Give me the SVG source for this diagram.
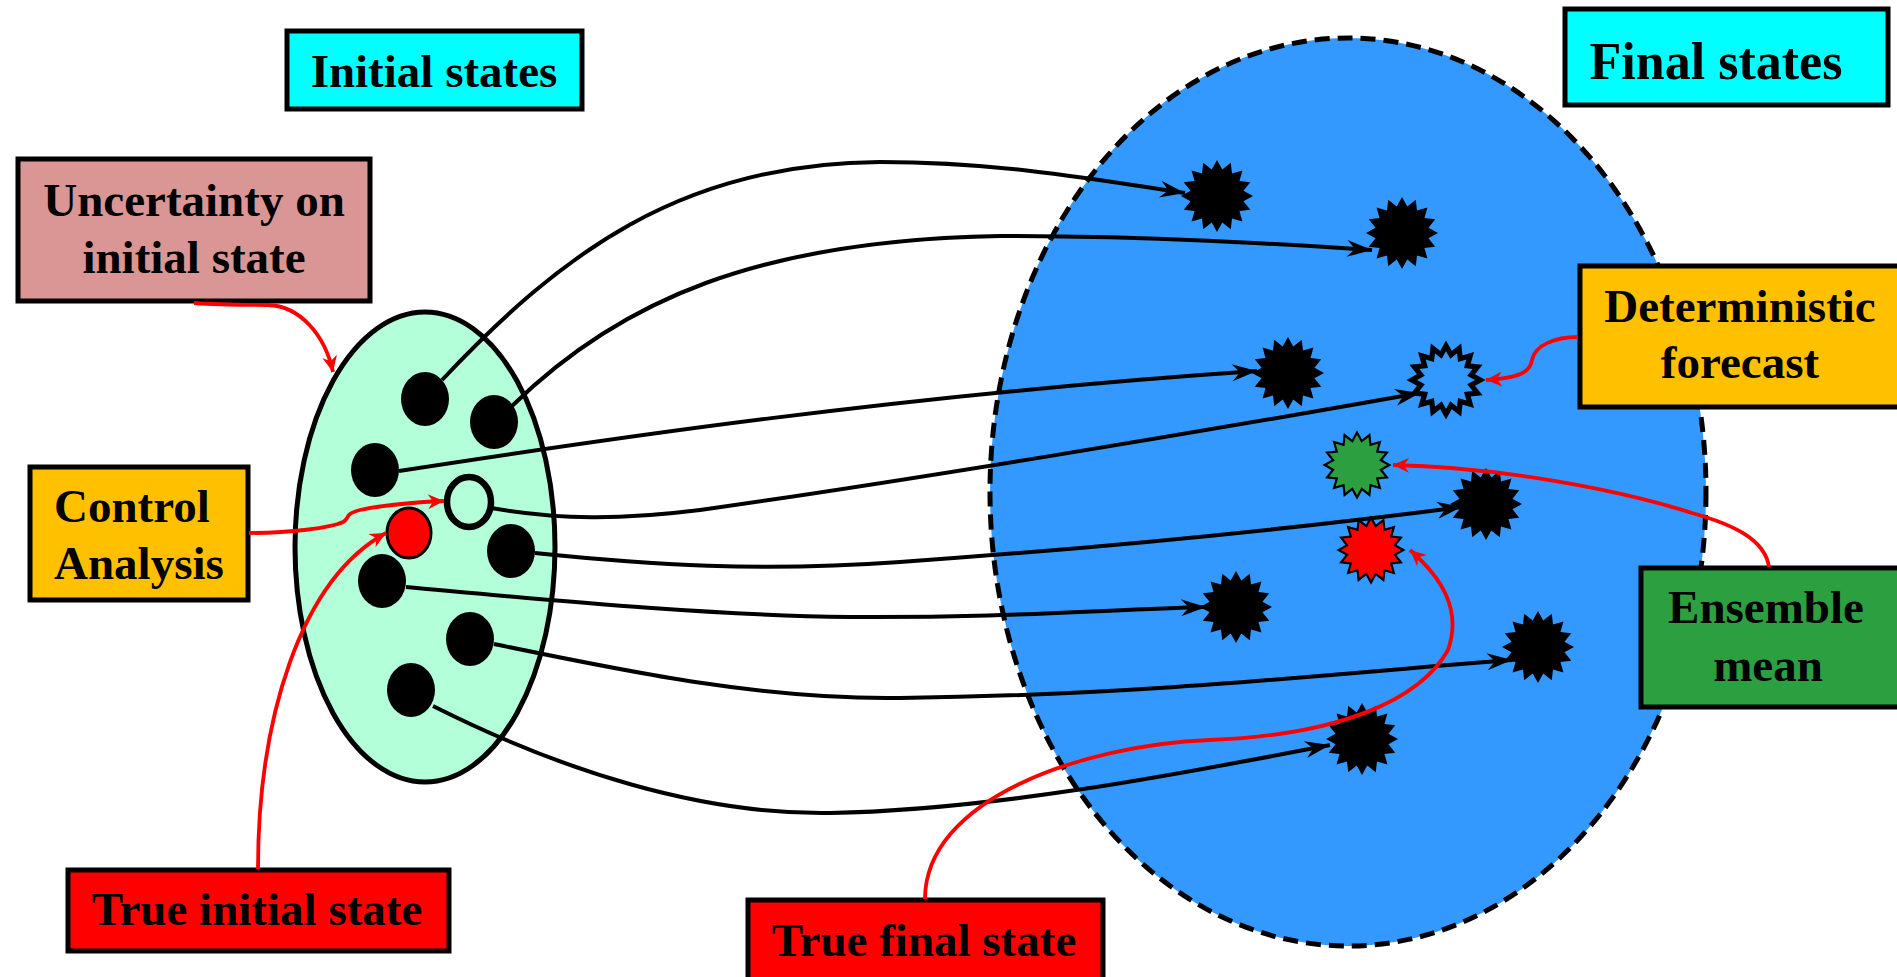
<svg xmlns="http://www.w3.org/2000/svg" xmlns:xlink="http://www.w3.org/1999/xlink" width="1897" height="977" viewBox="0 0 1897 977">
  <style>
    .box { stroke: #000; stroke-width: 5; }
    .lbl { font-family: "Liberation Serif", "Times New Roman", serif; font-weight: bold; font-size: 47px; fill: #000; }
    .mid { text-anchor: middle; }
    .dot { fill: #000; }
    .flow { fill: none; stroke: #000; stroke-width: 4; marker-end: url(#arrowBlack); }
    .link { fill: none; stroke: #FF0000; stroke-width: 3.8; marker-end: url(#arrowRed); }
  </style>
  <defs>
    <marker id="arrowBlack" viewBox="-27 -10 29 20" refX="0" refY="0" markerWidth="29" markerHeight="20" markerUnits="userSpaceOnUse" orient="auto">
      <path d="M0,0 L-25,-8.5 L-17,0 L-25,8.5 Z" fill="#000"/>
    </marker>
    <marker id="arrowRed" viewBox="-18 -9 20 18" refX="0" refY="0" markerWidth="20" markerHeight="18" markerUnits="userSpaceOnUse" orient="auto">
      <path d="M0,0 L-16,-7.5 L-11,0 L-16,7.5 Z" fill="#FF0000"/>
    </marker>
    <!-- 16-point burst used for every final state -->
    <path id="star" d="M0,-36 L5.27,-26.48 L13.78,-33.26 L15,-22.45 L25.46,-25.46 L22.45,-15 L33.26,-13.78 L26.48,-5.27 L36,0 L26.48,5.27 L33.26,13.78 L22.45,15 L25.46,25.46 L15,22.45 L13.78,33.26 L5.27,26.48 L0,36 L-5.27,26.48 L-13.78,33.26 L-15,22.45 L-25.46,25.46 L-22.45,15 L-33.26,13.78 L-26.48,5.27 L-36,0 L-26.48,-5.27 L-33.26,-13.78 L-22.45,-15 L-25.46,-25.46 L-15,-22.45 L-13.78,-33.26 L-5.27,-26.48 Z"/>
  </defs>

  <rect width="1897" height="977" fill="#FFFFFF"/>

  <!-- state regions -->
  <g id="final-region">
    <ellipse cx="1348" cy="492" rx="358" ry="454" fill="#3399FF" stroke="#000" stroke-width="5" stroke-dasharray="15 8"/>
  </g>
  <g id="initial-region">
    <ellipse cx="425" cy="547" rx="130" ry="235" fill="#B3FFDA" stroke="#000" stroke-width="5"/>
  </g>

  <!-- final ensemble members -->
  <g id="final-1"><use xlink:href="#star" x="1217" y="196" fill="#000"/></g>
  <g id="final-2"><use xlink:href="#star" x="1402" y="233" fill="#000"/></g>
  <g id="final-3"><use xlink:href="#star" x="1288" y="373" fill="#000"/></g>
  <g id="final-deterministic"><use xlink:href="#star" transform="translate(1446,380) scale(0.95)" fill="#3399FF" stroke="#000" stroke-width="5.5"/></g>
  <g id="final-mean"><use xlink:href="#star" transform="translate(1357,465) scale(0.9)" fill="#2CA040" stroke="#000" stroke-width="2.4"/></g>
  <g id="final-4"><use xlink:href="#star" x="1486" y="504" fill="#000"/></g>
  <g id="final-true"><use xlink:href="#star" transform="translate(1371,550) scale(0.9)" fill="#FF0000" stroke="#000" stroke-width="2.4"/></g>
  <g id="final-5"><use xlink:href="#star" x="1236" y="607" fill="#000"/></g>
  <g id="final-6"><use xlink:href="#star" x="1538" y="647" fill="#000"/></g>
  <g id="final-7"><use xlink:href="#star" x="1362" y="739" fill="#000"/></g>

  <!-- initial ensemble members -->
  <g id="init-1"><ellipse class="dot" cx="425" cy="399" rx="24" ry="27"/></g>
  <g id="init-2"><ellipse class="dot" cx="494" cy="422" rx="24" ry="27"/></g>
  <g id="init-3"><ellipse class="dot" cx="375" cy="470" rx="24" ry="27"/></g>
  <g id="init-control"><ellipse cx="469" cy="502" rx="22" ry="25" fill="#B3FFDA" stroke="#000" stroke-width="6.5"/></g>
  <g id="init-true"><ellipse cx="409" cy="533" rx="22" ry="25" fill="#FF0000" stroke="#000" stroke-width="3"/></g>
  <g id="init-4"><ellipse class="dot" cx="511" cy="551" rx="24" ry="27"/></g>
  <g id="init-5"><ellipse class="dot" cx="382" cy="581" rx="24" ry="27"/></g>
  <g id="init-6"><ellipse class="dot" cx="470" cy="639" rx="24" ry="27"/></g>
  <g id="init-7"><ellipse class="dot" cx="411" cy="690" rx="24" ry="27"/></g>

  <!-- labels -->
  <g id="label-initial-states">
    <rect class="box" x="287" y="31" width="295" height="78" fill="#00FFFF"/>
    <text class="lbl mid" x="434" y="87">Initial states</text>
  </g>
  <g id="label-final-states">
    <rect class="box" x="1565" y="9" width="323" height="96" fill="#00FFFF"/>
    <text class="lbl mid" x="1716" y="79" style="font-size:52px">Final states</text>
  </g>
  <g id="label-uncertainty">
    <rect class="box" x="18" y="159" width="352" height="142" fill="#D99694"/>
    <text class="lbl mid" x="194" y="216">Uncertainty on</text>
    <text class="lbl mid" x="194" y="273">initial state</text>
  </g>
  <g id="label-control">
    <rect class="box" x="30" y="467" width="218" height="133" fill="#FFC000"/>
    <text class="lbl" x="54" y="522">Control</text>
    <text class="lbl" x="54" y="579">Analysis</text>
  </g>
  <g id="label-true-initial">
    <rect class="box" x="68" y="870" width="381" height="81" fill="#FF0000"/>
    <text class="lbl mid" x="257" y="925">True initial state</text>
  </g>
  <g id="label-true-final">
    <rect class="box" x="748" y="900" width="355" height="90" fill="#FF0000"/>
    <text class="lbl mid" x="924" y="956">True final state</text>
  </g>
  <g id="label-deterministic">
    <rect class="box" x="1580" y="266" width="330" height="141" fill="#FFC000"/>
    <text class="lbl mid" x="1740" y="322">Deterministic</text>
    <text class="lbl mid" x="1740" y="378">forecast</text>
  </g>
  <g id="label-ensemble-mean">
    <rect class="box" x="1641" y="568" width="270" height="139" fill="#2CA040"/>
    <text class="lbl mid" x="1766" y="623">Ensemble</text>
    <text class="lbl mid" x="1768" y="681">mean</text>
  </g>

  <!-- connectors -->
  <g id="connectors">
    <path class="flow" d="M442,380 C560,255 680,163 880,162 C1000,162 1100,180 1185,193"/>
    <path class="flow" d="M512,406 C620,300 760,240 1000,236 C1150,236 1280,244 1372,250"/>
    <path class="flow" d="M399,471 C600,440 900,395 1257,371"/>
    <path class="flow" d="M491,508 C560,520 620,520 700,510 C900,482 1200,432 1420,393"/>
    <path class="flow" d="M535,553 C650,565 760,572 900,562 C1100,548 1300,528 1462,507"/>
    <path class="flow" d="M406,587 C550,600 700,615 850,617 C1000,618 1100,610 1206,607"/>
    <path class="flow" d="M494,644 C620,670 760,700 900,698 C1150,695 1350,672 1512,660"/>
    <path class="flow" d="M433,706 C560,770 700,815 830,813 C1000,810 1200,770 1330,745"/>

    <path class="link" d="M194,303 C220,305 245,305 268,305 C300,306 325,335 333,372"/>
    <path class="link" d="M249,533 C290,533 330,528 343,522 C350,518 344,514 360,510 C390,504 420,502 444,501"/>
    <path class="link" d="M258,869 C258,720 300,580 386,533"/>
    <path class="link" d="M1578,337 C1555,337 1535,345 1532,360 C1530,372 1520,378 1486,380"/>
    <path class="link" d="M1769,567 C1765,540 1735,525 1692,513 C1620,490 1500,467 1393,465"/>
    <path class="link" d="M925,899 C925,800 1080,745 1210,740 C1340,735 1420,700 1448,650 C1462,610 1442,578 1410,550"/>
  </g>
</svg>
